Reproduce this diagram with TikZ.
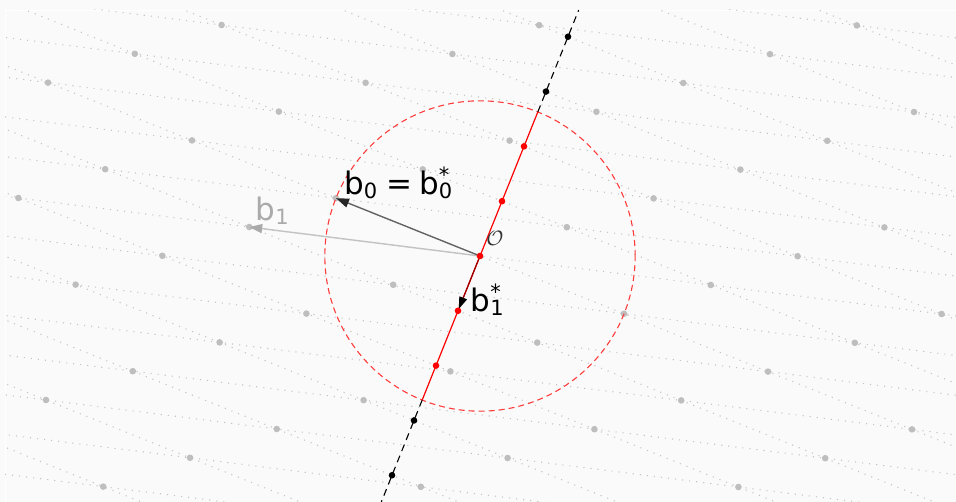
\documentclass[tikz,border=0pt]{standalone}
\usepackage{fontspec}
\setmainfont{DejaVu Sans}
\usetikzlibrary{arrows.meta,calc}
\definecolor{bgc}{RGB}{250,250,250}
\definecolor{latdot}{RGB}{190,190,190}
\definecolor{latline}{RGB}{196,196,196}
\definecolor{bzero}{RGB}{100,100,100}
\definecolor{bone}{RGB}{195,195,195}
\definecolor{bonelab}{RGB}{170,170,170}
\definecolor{circred}{RGB}{255,60,60}
\newcommand\lblsub[1]{\raisebox{-4pt}{\fontsize{21}{21}\selectfont #1}}
\newcommand\lblsubsup[2]{\rlap{\raisebox{-4pt}{\fontsize{21}{21}\selectfont #1}}\raisebox{12pt}{\fontsize{21}{21}\selectfont #2}}
\begin{document}
\begin{tikzpicture}[x=1pt,y=-1pt,
  latticeline/.style={latline, line width=1.1pt, dash pattern=on 1.1pt off 6pt},
  latticedot/.style={fill=latdot},
  projdot/.style={fill=red},
  outdot/.style={fill=black},
  veclabel/.style={inner sep=0pt, anchor=base west, font=\fontsize{31}{32}\selectfont},
  vecarrow/.style={line width=1.4pt}
]
\fill[bgc] (0,0) rectangle (956,502);
\useasboundingbox (0,0) rectangle (956,502);
\draw[white, line width=0.8pt] (5,502) -- (5,10) -- (956,10);

\coordinate (O) at (480,256);

\begin{scope}
\clip (5,10) rectangle (956,502);
% lines along b1 through i*b0
\foreach \i in {-8,...,8} {
  \pgfmathsetmacro\xa{480-144*\i+230.8*10}
  \pgfmathsetmacro\ya{256-57.8*\i+29*10}
  \pgfmathsetmacro\xb{480-144*\i-230.8*10}
  \pgfmathsetmacro\yb{256-57.8*\i-29*10}
  \coordinate (ba\i) at (\xa,\ya);
  \coordinate (bb\i) at (\xb,\yb);
  \draw[latticeline] (ba\i) -- (bb\i);
}
% lines along b0 through j*b1
\foreach \j in {-7,...,7} {
  \pgfmathsetmacro\xa{480-230.8*\j+144*10}
  \pgfmathsetmacro\ya{256-29*\j+57.8*10}
  \pgfmathsetmacro\xb{480-230.8*\j-144*10}
  \pgfmathsetmacro\yb{256-29*\j-57.8*10}
  \coordinate (ca\j) at (\xa,\ya);
  \coordinate (cb\j) at (\xb,\yb);
  \draw[latticeline] (ca\j) -- (cb\j);
}
% lattice points
\foreach \i in {-9,...,9} {
  \foreach \j in {-9,...,9} {
    \pgfmathsetmacro\px{480-144*\i-230.8*\j}
    \pgfmathsetmacro\py{256-57.8*\i-29*\j}
    \coordinate (L\i_\j) at (\px,\py);
    \fill[latticedot] (L\i_\j) circle[radius=3.3pt];
  }
}
\end{scope}

% circle of radius |b0|
\draw[circred, line width=1.1pt, dash pattern=on 6pt off 4pt] (O) circle[radius=155.17pt];

% b1* line
\coordinate (Ptop) at (537.8,112.0);
\coordinate (Pbot) at (422.2,400.0);
\coordinate (Etop) at (578.7,10);
\coordinate (Ebot) at (381.3,502);
\draw[black, line width=1.1pt, dash pattern=on 7pt off 5pt] (Ptop) -- (Etop);
\draw[black, line width=1.1pt, dash pattern=on 7pt off 5pt] (Pbot) -- (Ebot);
\draw[red, line width=1.2pt] (Ptop) -- (Pbot);

% vectors
\coordinate (B0) at (336,198.2);
\coordinate (B1) at (249.2,227);
\coordinate (B1s) at (458,310.8);
\draw[vecarrow, bone, -{Triangle[length=13pt,width=9pt,color=bonelab,fill=bonelab]}] (O) -- (B1);
\draw[vecarrow, bzero, -{Triangle[length=13pt,width=9pt,color=black!85,fill=black!85]}] (O) -- (B0);
\draw[line width=1.2pt, red!60!black, -{Triangle[length=12pt,width=8pt,color=black,fill=black]}, shorten >=2pt] (O) -- (B1s);

% projection points
\foreach \k in {-2,...,2} {
  \coordinate (R\k) at ($(O)+\k*(-22.0,54.81)$);
  \fill[projdot] (R\k) circle[radius=3.3pt];
}
\foreach \k in {-4,-3,3,4} {
  \coordinate (K\k) at ($(O)+\k*(-22.0,54.81)$);
  \fill[outdot] (K\k) circle[radius=3.3pt];
}

% labels
\node[veclabel] (lb0) at (344,195) {b\lblsub{0}\hspace{9pt}=\hspace{7pt}b\lblsubsup{0}{*}};
\node[veclabel, text=bonelab] (lb1) at (255.5,221) {b\lblsub{1}};
\node[veclabel] (lb1s) at (470.5,312) {b\lblsubsup{1}{*}};
\node[inner sep=0pt, text=black!80, font=\fontsize{21}{21}\selectfont] (lo) at (495,238.5) {$\mathcal{O}$};
\end{tikzpicture}
\end{document}
